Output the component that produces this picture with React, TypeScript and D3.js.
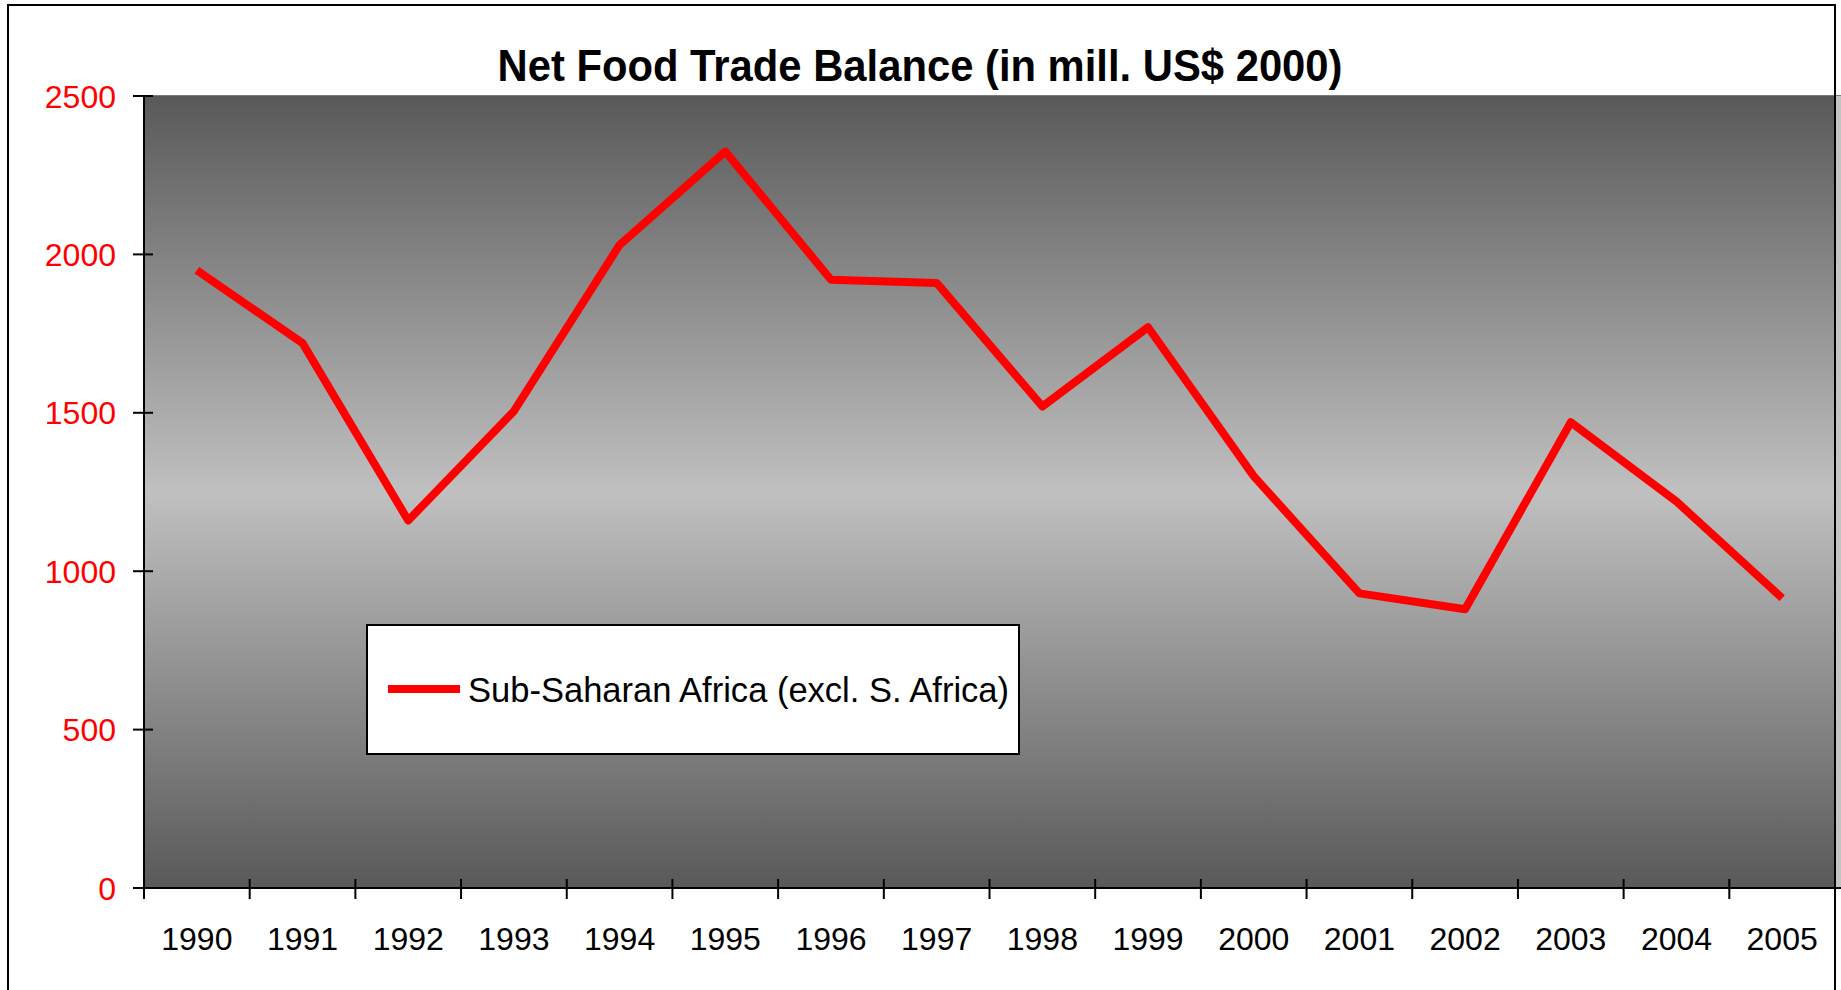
import React from "react";
import * as d3 from "d3";

const years = ["1990","1991","1992","1993","1994","1995","1996","1997","1998","1999","2000","2001","2002","2003","2004","2005"];
const balance = [1950, 1720, 1160, 1505, 2030, 2325, 1920, 1910, 1520, 1770, 1300, 930, 880, 1470, 1220, 915];
const yTicks = [0, 500, 1000, 1500, 2000, 2500];
const title = "Net Food Trade Balance (in mill. US$ 2000)";
const seriesName = "Sub-Saharan Africa (excl. S. Africa)";

const W = 1841;
const H = 990;
const plot = { left: 144, top: 96, right: 1835, bottom: 888 };
const FONT = "'Liberation Sans', Arial, Helvetica, sans-serif";

export default function App() {
  const x = d3.scaleBand<string>().domain(years).range([plot.left, plot.right]).padding(0);
  const y = d3.scaleLinear().domain([0, 2500]).range([plot.bottom, plot.top]);
  const bw = x.bandwidth();
  const line = d3
    .line<number>()
    .x((_, i) => (x(years[i]) as number) + bw / 2)
    .y((d) => y(d));
  const boundaries = years.map((yr) => x(yr) as number).concat([plot.right]);

  return (
    <svg
      width={W}
      height={H}
      style={{ position: "absolute", left: 0, top: 0, display: "block" }}
      fontFamily={FONT}
    >
      <defs>
        <linearGradient id="bg" x1="0" y1="0" x2="0" y2="1">
          <stop offset="0%" stopColor="#595959" />
          <stop offset="50%" stopColor="#c0c0c0" />
          <stop offset="100%" stopColor="#595959" />
        </linearGradient>
      </defs>
      <rect x={0} y={0} width={W} height={H} fill="#ffffff" />
      {/* plot area */}
      <rect
        x={plot.left}
        y={plot.top}
        width={W - plot.left}
        height={plot.bottom - plot.top}
        fill="url(#bg)"
      />
      <rect x={1836} y={plot.top} width={5} height={plot.bottom - plot.top} fill="#c4c4c4" />
      <line x1={plot.left} x2={W} y1={plot.top - 0.5} y2={plot.top - 0.5} stroke="#7a7a7a" strokeWidth={1} />
      {/* outer chart border */}
      <rect x={8} y={5} width={1827} height={1000} fill="none" stroke="#000" strokeWidth={2} />

      {/* title */}
      <text
        x={920}
        y={81}
        textAnchor="middle"
        fontSize={44}
        fontWeight="bold"
        fill="#000"
        textLength={845}
        lengthAdjust="spacingAndGlyphs"
      >
        {title}
      </text>

      {/* y axis */}
      <line x1={plot.left} x2={plot.left} y1={plot.top} y2={plot.bottom + 11} stroke="#000" strokeWidth={2} />
      {yTicks.map((t) => (
        <g key={t}>
          <line x1={plot.left - 11} x2={plot.left + 9} y1={y(t)} y2={y(t)} stroke="#000" strokeWidth={2} />
          <text x={116} y={y(t)} dy="0.36em" textAnchor="end" fontSize={32} fill="#ff0000">
            {t}
          </text>
        </g>
      ))}

      {/* x axis */}
      <line x1={plot.left - 11} x2={W} y1={plot.bottom} y2={plot.bottom} stroke="#000" strokeWidth={2} />
      {boundaries.map((b, i) => (
        <line
          key={i}
          x1={b}
          x2={b}
          y1={i === 0 ? plot.bottom : plot.bottom - 9}
          y2={plot.bottom + 11}
          stroke="#000"
          strokeWidth={2}
        />
      ))}
      {years.map((yr) => (
        <text key={yr} x={(x(yr) as number) + bw / 2} y={950} textAnchor="middle" fontSize={32} fill="#000">
          {yr}
        </text>
      ))}

      {/* series line */}
      <path d={line(balance) || ""} fill="none" stroke="#ff0000" strokeWidth={8} strokeLinejoin="round" strokeLinecap="butt" />

      {/* legend */}
      <rect x={367} y={625} width={652} height={129} fill="#ffffff" stroke="#000" strokeWidth={2} />
      <line x1={388} x2={460} y1={689} y2={689} stroke="#ff0000" strokeWidth={8} />
      <text x={468} y={702} fontSize={34.5} fill="#000" textLength={541} lengthAdjust="spacingAndGlyphs">
        {seriesName}
      </text>
    </svg>
  );
}
